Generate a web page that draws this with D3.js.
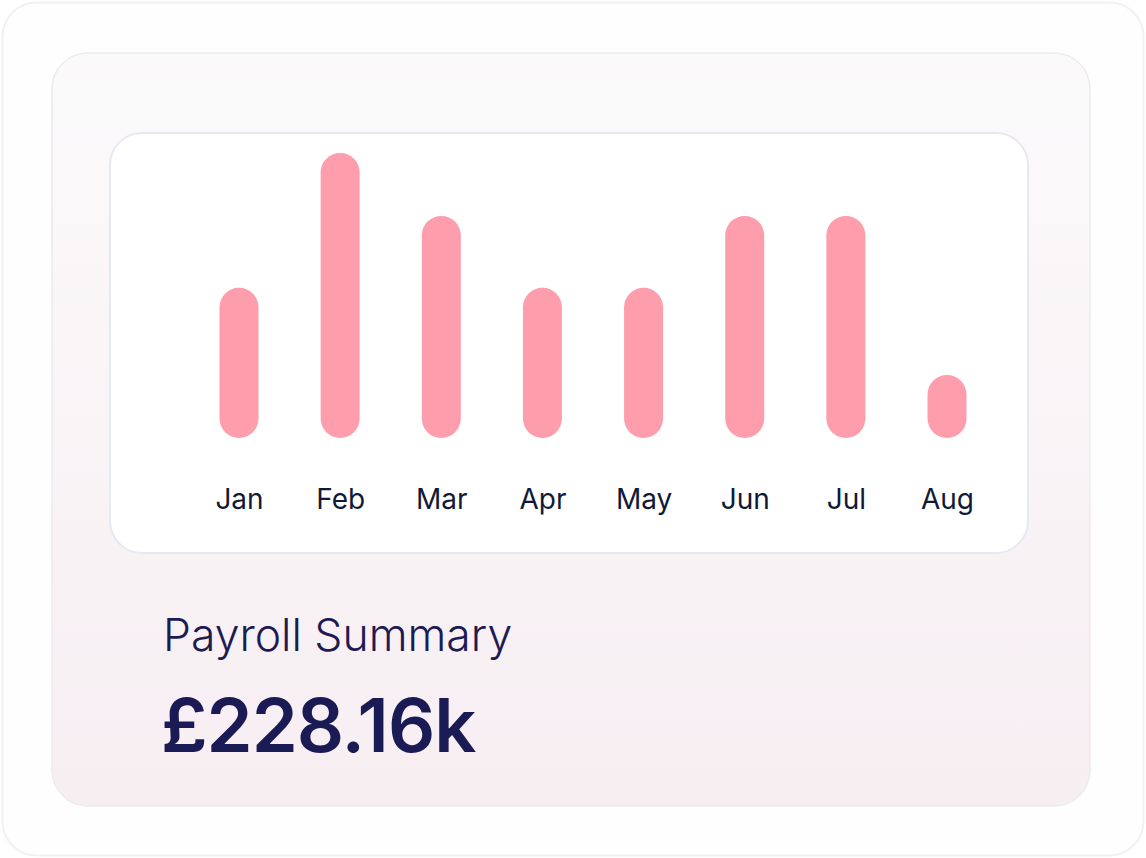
<!DOCTYPE html>
<html>
<head>
<meta charset="utf-8">
<script src="https://cdn.jsdelivr.net/npm/d3@7"></script>
<style>
  html, body { margin: 0; padding: 0; background: #ffffff; }
  svg { display: block; }
  text { font-family: Inter, "Open Sans", sans-serif; }
</style>
</head>
<body>
<svg id="chart" width="1146" height="858"></svg>
<script>
// ---- data ----
const months = ["Jan", "Feb", "Mar", "Apr", "May", "Jun", "Jul", "Aug"];
const payroll = [23.4, 44.4, 34.6, 23.4, 23.4, 34.6, 34.6, 9.8]; // £k per month
const titleText = "Payroll Summary";
const totalText = "£228.16k";

// ---- layout ----
const W = 1146, H = 858;
const svg = d3.select("#chart");

const defs = svg.append("defs");
const grad = defs.append("linearGradient")
  .attr("id", "cardGrad").attr("x1", 0).attr("y1", 0).attr("x2", 0).attr("y2", 1);
grad.append("stop").attr("offset", "0%").attr("stop-color", "#fbfafb");
grad.append("stop").attr("offset", "100%").attr("stop-color", "#f7eef2");

// outer card
svg.append("rect")
  .attr("x", 2.5).attr("y", 2.5).attr("width", W - 5).attr("height", H - 5)
  .attr("rx", 34).attr("fill", "#fefefe")
  .attr("stroke", "#f1f0f3").attr("stroke-width", 2);

// inner tinted card
svg.append("rect")
  .attr("x", 52).attr("y", 53).attr("width", 1038).attr("height", 753)
  .attr("rx", 36).attr("fill", "url(#cardGrad)")
  .attr("stroke", "#ecebf0").attr("stroke-width", 1.5);

// white chart panel
svg.append("rect")
  .attr("x", 110).attr("y", 133).attr("width", 918).attr("height", 420)
  .attr("rx", 32).attr("fill", "#ffffff")
  .attr("stroke", "#e6e9ef").attr("stroke-width", 2);

// scales
const x = d3.scalePoint().domain(months).range([239, 947]);
const y = d3.scaleLinear().domain([0, d3.max(payroll)]).range([438, 153]);
const barW = 39;

const g = svg.append("g");
g.selectAll("rect.bar")
  .data(months.map((m, i) => ({ m, v: payroll[i] })))
  .join("rect")
  .attr("class", "bar")
  .attr("x", d => x(d.m) - barW / 2)
  .attr("width", barW)
  .attr("y", d => y(d.v))
  .attr("height", d => y(0) - y(d.v))
  .attr("rx", barW / 2)
  .attr("fill", "#fe9dac");

// month axis (labels only)
const axis = d3.axisBottom(x).tickSize(0).tickPadding(0);
const ax = svg.append("g").attr("transform", "translate(0,489)").call(axis);
ax.select(".domain").remove();
ax.selectAll("text")
  .attr("dy", "0.72em")
  .attr("y", 0)
  .style("font-family", "Inter, 'Open Sans', sans-serif")
  .style("font-size", "28px")
  .style("font-weight", 400)
  .attr("fill", "#101a36");

// summary texts
svg.append("text")
  .attr("x", 163).attr("y", 651)
  .attr("font-size", 44.5).attr("font-weight", 300)
  .attr("fill", "#1d1b52")
  .text(titleText);

svg.append("text")
  .attr("x", 161).attr("y", 752)
  .attr("font-size", 74).attr("font-weight", 600)
  .attr("fill", "#1a1a54")
  .attr("letter-spacing", -1)
  .text(totalText);
</script>
</body>
</html>
